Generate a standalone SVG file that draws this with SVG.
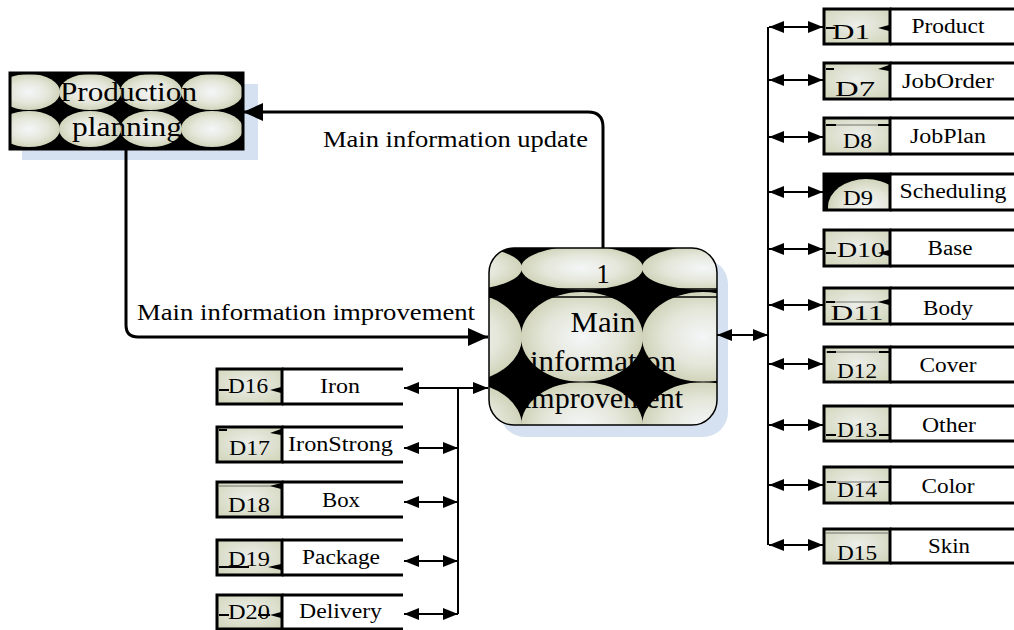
<svg xmlns="http://www.w3.org/2000/svg" width="1014" height="630" viewBox="0 0 1014 630">
  <defs>
    <radialGradient id="cell" cx="0.5" cy="0.5" r="0.5">
      <stop offset="0" stop-color="#f4f6f8"/>
      <stop offset="0.6" stop-color="#e5e7db"/>
      <stop offset="1" stop-color="#d1d4ba"/>
    </radialGradient>
    <radialGradient id="store" cx="0.5" cy="0.45" r="0.65">
      <stop offset="0" stop-color="#eceee9"/>
      <stop offset="1" stop-color="#d3d7bd"/>
    </radialGradient>
    <marker id="big" markerUnits="userSpaceOnUse" viewBox="0 0 20 18" markerWidth="20" markerHeight="18" refX="20" refY="9" orient="auto-start-reverse">
      <path d="M0,0 L20,9 L0,18 Z" fill="#000"/>
    </marker>
    <marker id="small" markerUnits="userSpaceOnUse" viewBox="0 0 15 12" markerWidth="15" markerHeight="12" refX="15" refY="6" orient="auto-start-reverse">
      <path d="M0,0 L15,6 L0,12 Z" fill="#000"/>
    </marker>
    <clipPath id="procClip"><rect x="489" y="248" width="228" height="177" rx="25"/></clipPath>
    <clipPath id="ppClip"><rect x="10" y="73" width="233" height="76"/></clipPath>
    <clipPath id="d9Clip"><rect x="824" y="174" width="66" height="36"/></clipPath>
  </defs>
  <style>
    .t{font-family:"Liberation Serif","Times New Roman",serif;fill:#000}
    .lab{font-size:23px}
    .st{font-size:20px}
    .big{font-size:30px}
    .conn{fill:none;stroke:#000;stroke-width:3}
    .sconn{fill:none;stroke:#000;stroke-width:2}
    .dbox{fill:url(#store);stroke:#000;stroke-width:3}
    .edge{fill:none;stroke:#000;stroke-width:3}
    .tick{fill:none;stroke:#000;stroke-width:2}
    .hair{fill:none;stroke:#555;stroke-width:0.8}
    .wedge{fill:#000}
    .shadow{fill:#d5e0f1}
    .cell{fill:url(#cell)}
  </style>

  <!-- external entity: Production planning -->
  <g id="production-planning">
    <rect class="shadow" x="22" y="84" width="236" height="76"/>
    <rect x="10" y="73" width="233" height="76" fill="#000"/>
    <g clip-path="url(#ppClip)">
      <ellipse class="cell" cx="29" cy="92" rx="31" ry="18"/>
      <ellipse class="cell" cx="90" cy="92" rx="31" ry="18"/>
      <ellipse class="cell" cx="151" cy="92" rx="31" ry="18"/>
      <ellipse class="cell" cx="212" cy="92" rx="31" ry="18"/>
      <ellipse class="cell" cx="29" cy="129" rx="31" ry="18"/>
      <ellipse class="cell" cx="90" cy="129" rx="31" ry="18"/>
      <ellipse class="cell" cx="151" cy="129" rx="31" ry="18"/>
      <ellipse class="cell" cx="212" cy="129" rx="31" ry="18"/>
    </g>
    <rect x="10" y="73" width="233" height="76" fill="none" stroke="#000" stroke-width="3"/>
    <text class="t" font-size="27" x="128.5" y="101" text-anchor="middle" textLength="137" lengthAdjust="spacingAndGlyphs">Production</text>
    <text class="t" font-size="27" x="127" y="136" text-anchor="middle" textLength="110" lengthAdjust="spacingAndGlyphs">planning</text>
  </g>

  <!-- process 1 -->
  <g id="process-1">
    <rect class="shadow" x="500" y="259" width="228" height="178" rx="25"/>
    <rect x="489" y="248" width="228" height="177" rx="25" fill="#000"/>
    <g clip-path="url(#procClip)">
      <ellipse class="cell" cx="461" cy="268" rx="61" ry="22"/>
      <ellipse class="cell" cx="582" cy="268" rx="61" ry="22"/>
      <ellipse class="cell" cx="703" cy="268" rx="61" ry="22"/>
      <ellipse class="cell" cx="461" cy="337" rx="61" ry="45"/>
      <ellipse class="cell" cx="582" cy="337" rx="61" ry="45"/>
      <ellipse class="cell" cx="703" cy="337" rx="61" ry="45"/>
      <ellipse class="cell" cx="461" cy="426" rx="61" ry="44"/>
      <ellipse class="cell" cx="582" cy="426" rx="61" ry="44"/>
      <ellipse class="cell" cx="703" cy="426" rx="61" ry="44"/>
      <path d="M489,289 H717 M489,297 H717" stroke="#000" stroke-width="1.3"/>
      <path d="M489,382 H717" stroke="#000" stroke-width="1"/>
    </g>
    <rect x="489" y="248" width="228" height="177" rx="25" fill="none" stroke="#000" stroke-width="1.5"/>
    <text class="t" font-size="27" x="603" y="283" text-anchor="middle">1</text>
    <text class="t big" x="603" y="332" text-anchor="middle" textLength="65" lengthAdjust="spacingAndGlyphs">Main</text>
    <text class="t big" x="603" y="371" text-anchor="middle" textLength="146" lengthAdjust="spacingAndGlyphs">information</text>
    <text class="t big" x="603" y="408" text-anchor="middle" textLength="160" lengthAdjust="spacingAndGlyphs">improvement</text>
  </g>

  <!-- data stores, right column -->
  <g id="store-d1">
    <rect class="dbox" x="824" y="9" width="66" height="35"/>
    <path class="edge" d="M890,9 H1016 M890,44 H1016"/>
    <path class="tick" d="M826,28 h9"/><path class="wedge" d="M878,28 l11,-3 v6 z"/>
    <text class="t st" x="851" y="39" text-anchor="middle" textLength="38" lengthAdjust="spacingAndGlyphs">D1</text>
    <text class="t st" x="948" y="33" text-anchor="middle" textLength="73" lengthAdjust="spacingAndGlyphs">Product</text>
  </g>
  <g id="store-d7">
    <rect class="dbox" x="824" y="63" width="66" height="36"/>
    <path class="edge" d="M890,63 H1016 M890,99 H1016"/>
    <path class="tick" d="M826,69 h8"/><path class="wedge" d="M878,69 l11,-4 v6 z"/>
    <text class="t st" x="855" y="96" text-anchor="middle" textLength="40" lengthAdjust="spacingAndGlyphs">D7</text>
    <text class="t st" x="948" y="88" text-anchor="middle" textLength="92" lengthAdjust="spacingAndGlyphs">JobOrder</text>
  </g>
  <g id="store-d8">
    <rect class="dbox" x="824" y="118" width="66" height="36"/>
    <path class="edge" d="M890,118 H1016 M890,154 H1016"/>
    <path class="hair" d="M826,125 H889"/>
    <path class="tick" d="M826,125 h10 M878,125 h11"/>
    <text class="t st" x="857.5" y="148" text-anchor="middle" textLength="29" lengthAdjust="spacingAndGlyphs">D8</text>
    <text class="t st" x="948" y="143" text-anchor="middle" textLength="76" lengthAdjust="spacingAndGlyphs">JobPlan</text>
  </g>
  <g id="store-d9">
    <rect x="824" y="174" width="66" height="36" fill="#000"/>
    <g clip-path="url(#d9Clip)">
      <ellipse class="cell" cx="866" cy="207" rx="38" ry="28"/>
    </g>
    <rect x="824" y="174" width="66" height="36" fill="none" stroke="#000" stroke-width="3"/>
    <path class="edge" d="M890,174 H1016 M890,210 H1016"/>
    <text class="t st" x="858" y="205" text-anchor="middle" textLength="30" lengthAdjust="spacingAndGlyphs">D9</text>
    <text class="t st" x="953" y="198" text-anchor="middle" textLength="107" lengthAdjust="spacingAndGlyphs">Scheduling</text>
  </g>
  <g id="store-d10">
    <rect class="dbox" x="824" y="230" width="66" height="36"/>
    <path class="edge" d="M890,230 H1016 M890,266 H1016"/>
    <path class="tick" d="M826,253 h10"/><path class="wedge" d="M878,253 l11,-3 v6 z"/>
    <text class="t st" x="861" y="257" text-anchor="middle" textLength="48" lengthAdjust="spacingAndGlyphs">D10</text>
    <text class="t st" x="950" y="255" text-anchor="middle" textLength="45" lengthAdjust="spacingAndGlyphs">Base</text>
  </g>
  <g id="store-d11">
    <rect class="dbox" x="824" y="288" width="66" height="36"/>
    <path class="edge" d="M890,288 H1016 M890,324 H1016"/>
    <path class="hair" d="M826,302 H889"/>
    <path class="tick" d="M826,302 h9"/><path class="wedge" d="M878,302 l11,-3 v6 z"/>
    <text class="t st" x="857" y="320" text-anchor="middle" textLength="53" lengthAdjust="spacingAndGlyphs">D11</text>
    <text class="t st" x="948" y="315" text-anchor="middle" textLength="50" lengthAdjust="spacingAndGlyphs">Body</text>
  </g>
  <g id="store-d12">
    <rect class="dbox" x="824" y="347" width="66" height="35"/>
    <path class="edge" d="M890,347 H1016 M890,382 H1016"/>
    <path class="hair" d="M826,352 H889"/>
    <path class="tick" d="M827,352 h9 M879,352 h10"/>
    <text class="t st" x="857" y="378" text-anchor="middle" textLength="40" lengthAdjust="spacingAndGlyphs">D12</text>
    <text class="t st" x="948" y="372" text-anchor="middle" textLength="57" lengthAdjust="spacingAndGlyphs">Cover</text>
  </g>
  <g id="store-d13">
    <rect class="dbox" x="824" y="406" width="66" height="35"/>
    <path class="edge" d="M890,406 H1016 M890,441 H1016"/>
    <path class="tick" d="M826,435 h10 M879,435 h10"/>
    <text class="t st" x="857" y="437" text-anchor="middle" textLength="40" lengthAdjust="spacingAndGlyphs">D13</text>
    <text class="t st" x="949" y="432" text-anchor="middle" textLength="54" lengthAdjust="spacingAndGlyphs">Other</text>
  </g>
  <g id="store-d14">
    <rect class="dbox" x="824" y="467" width="66" height="36"/>
    <path class="edge" d="M890,467 H1016 M890,503 H1016"/>
    <path class="hair" d="M826,482 H889"/>
    <path class="tick" d="M827,482 h9 M879,482 h10"/>
    <text class="t st" x="857" y="497" text-anchor="middle" textLength="40" lengthAdjust="spacingAndGlyphs">D14</text>
    <text class="t st" x="948" y="493" text-anchor="middle" textLength="53" lengthAdjust="spacingAndGlyphs">Color</text>
  </g>
  <g id="store-d15">
    <rect class="dbox" x="824" y="529" width="66" height="34"/>
    <path class="edge" d="M890,529 H1016 M890,563 H1016"/>
    <path class="hair" d="M826,533 H889"/>
    <text class="t st" x="857" y="560" text-anchor="middle" textLength="40" lengthAdjust="spacingAndGlyphs">D15</text>
    <text class="t st" x="949" y="553" text-anchor="middle" textLength="42" lengthAdjust="spacingAndGlyphs">Skin</text>
  </g>

  <!-- data stores, left column -->
  <g id="store-d16">
    <rect class="dbox" x="217" y="369" width="65" height="35"/>
    <path class="edge" d="M282,369 H403 M282,404 H403"/>
    <path class="tick" d="M219,390 h10"/><path class="wedge" d="M270,390 l11,-3 v6 z"/>
    <text class="t st" x="248" y="393" text-anchor="middle" textLength="40" lengthAdjust="spacingAndGlyphs">D16</text>
    <text class="t st" x="340" y="393" text-anchor="middle" textLength="40" lengthAdjust="spacingAndGlyphs">Iron</text>
  </g>
  <g id="store-d17">
    <rect class="dbox" x="217" y="427" width="65" height="35"/>
    <path class="edge" d="M282,427 H403 M282,462 H403"/>
    <path class="tick" d="M219,430 h8"/><path class="wedge" d="M270,433 l11,-4 v6 z"/>
    <text class="t st" x="249.5" y="455" text-anchor="middle" textLength="41" lengthAdjust="spacingAndGlyphs">D17</text>
    <text class="t st" x="340.5" y="451" text-anchor="middle" textLength="105" lengthAdjust="spacingAndGlyphs">IronStrong</text>
  </g>
  <g id="store-d18">
    <rect class="dbox" x="217" y="482" width="65" height="35"/>
    <path class="edge" d="M282,482 H403 M282,517 H403"/>
    <path class="hair" d="M219,486 H280"/>
    <path class="wedge" d="M270,486 l11,-3 v6 z"/>
    <text class="t st" x="249" y="512" text-anchor="middle" textLength="42" lengthAdjust="spacingAndGlyphs">D18</text>
    <text class="t st" x="341" y="507" text-anchor="middle" textLength="38" lengthAdjust="spacingAndGlyphs">Box</text>
  </g>
  <g id="store-d19">
    <rect class="dbox" x="217" y="540" width="65" height="35"/>
    <path class="edge" d="M282,540 H403 M282,575 H403"/>
    <path class="tick" d="M219,567 h30"/><path class="wedge" d="M268,567 l13,-3 v6 z"/>
    <text class="t st" x="249" y="566" text-anchor="middle" textLength="42" lengthAdjust="spacingAndGlyphs">D19</text>
    <text class="t st" x="341" y="564" text-anchor="middle" textLength="78" lengthAdjust="spacingAndGlyphs">Package</text>
  </g>
  <g id="store-d20">
    <rect class="dbox" x="217" y="595" width="65" height="34"/>
    <path class="edge" d="M282,595 H403 M282,629 H403"/>
    <path class="tick" d="M219,615 h10 M258,615 h12"/><path class="wedge" d="M270,615 l11,-3 v6 z"/>
    <text class="t st" x="249" y="619" text-anchor="middle" textLength="42" lengthAdjust="spacingAndGlyphs">D20</text>
    <text class="t st" x="340.5" y="618" text-anchor="middle" textLength="83" lengthAdjust="spacingAndGlyphs">Delivery</text>
  </g>

  <!-- connectors -->
  <g id="connectors">
    <!-- data flows between the entity and the process -->
    <path class="conn" d="M603,248 V127 Q603,112 588,112 H243" marker-end="url(#big)"/>
    <path class="conn" d="M126,149 V325 Q126,337 138,337 H488" marker-end="url(#big)"/>
    <text class="t lab" x="323" y="147" textLength="265" lengthAdjust="spacingAndGlyphs">Main information update</text>
    <text class="t lab" x="137" y="320" textLength="338" lengthAdjust="spacingAndGlyphs">Main information improvement</text>

    <!-- right bus -->
    <path class="sconn" d="M768,27 V545"/>
    <path class="sconn" d="M717,335 H768" marker-start="url(#small)" marker-end="url(#small)"/>
    <path class="sconn" d="M769,27 H823" marker-start="url(#small)" marker-end="url(#small)"/>
    <path class="sconn" d="M769,80 H823" marker-start="url(#small)" marker-end="url(#small)"/>
    <path class="sconn" d="M769,137 H823" marker-start="url(#small)" marker-end="url(#small)"/>
    <path class="sconn" d="M769,192 H823" marker-start="url(#small)" marker-end="url(#small)"/>
    <path class="sconn" d="M769,249 H823" marker-start="url(#small)" marker-end="url(#small)"/>
    <path class="sconn" d="M769,305 H823" marker-start="url(#small)" marker-end="url(#small)"/>
    <path class="sconn" d="M769,364 H823" marker-start="url(#small)" marker-end="url(#small)"/>
    <path class="sconn" d="M769,425 H823" marker-start="url(#small)" marker-end="url(#small)"/>
    <path class="sconn" d="M769,485 H823" marker-start="url(#small)" marker-end="url(#small)"/>
    <path class="sconn" d="M769,545 H823" marker-start="url(#small)" marker-end="url(#small)"/>

    <!-- left bus -->
    <path class="sconn" d="M458,388 V614"/>
    <path class="sconn" d="M404,388 H488" marker-start="url(#small)" marker-end="url(#small)"/>
    <path class="sconn" d="M404,448 H458" marker-start="url(#small)" marker-end="url(#small)"/>
    <path class="sconn" d="M404,502 H458" marker-start="url(#small)" marker-end="url(#small)"/>
    <path class="sconn" d="M404,561 H458" marker-start="url(#small)" marker-end="url(#small)"/>
    <path class="sconn" d="M404,614 H458" marker-start="url(#small)" marker-end="url(#small)"/>
  </g>
</svg>
